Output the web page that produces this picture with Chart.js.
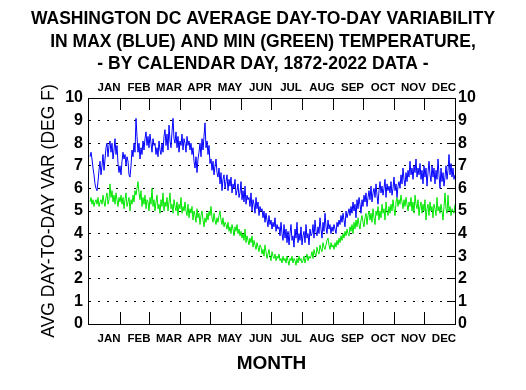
<!DOCTYPE html>
<html>
<head>
<meta charset="utf-8">
<script src="https://cdn.jsdelivr.net/npm/chart.js@4.4.1/dist/chart.umd.min.js"></script>
<style>
html,body{margin:0;padding:0;background:#ffffff;}
#wrap{width:526px;height:390px;position:relative;}
</style>
</head>
<body>
<div id="wrap"><canvas id="c" width="526" height="390"></canvas></div>
<script>
// ---------------- DATA ----------------
const titleLines = [
  'WASHINGTON DC AVERAGE DAY-TO-DAY VARIABILITY',
  'IN MAX (BLUE) AND MIN (GREEN) TEMPERATURE,',
  '- BY CALENDAR DAY, 1872-2022 DATA -'
];
const xAxisTitle = 'MONTH';
const yAxisTitle = 'AVG DAY-TO-DAY VAR (DEG F)';
const monthLabels = ['JAN','FEB','MAR','APR','MAY','JUN','JUL','AUG','SEP','OCT','NOV','DEC'];
const monthStartDay = [1, 32, 61, 92, 122, 153, 183, 214, 245, 275, 306, 336];
const daysInYear = 366;
const yMin = 0, yMax = 10, yStep = 1;

// Max temperature day-to-day variability (blue), one value per calendar day
const maxVariability = [
  7.4, 7.6, 7.3, 6.9, 6.6, 6.2, 6.0, 5.9, 6.3, 6.8,
  7.2, 6.6, 7.0, 7.5, 6.8, 7.3, 7.8, 8.0, 7.4, 7.9,
  8.1, 7.6, 8.0, 7.3, 7.7, 8.2, 7.5, 7.9, 7.1, 6.7,
  7.0, 6.6, 7.2, 7.6, 7.3, 7.5, 7.0, 7.4, 7.2, 6.6,
  6.5, 7.0, 7.7, 7.4, 8.0, 7.6, 9.1, 8.3, 7.6, 8.0,
  7.3, 7.8, 7.5, 8.1, 7.7, 8.2, 8.5, 7.9, 8.3, 7.8,
  8.4, 8.0, 7.6, 8.2, 7.9, 8.0, 7.5, 7.8, 7.4, 8.1,
  7.7, 7.5, 8.0, 7.6, 8.3, 8.6, 7.9, 8.4, 7.7, 8.8,
  8.1, 7.8, 8.5, 9.1, 8.2, 8.0, 8.5, 7.8, 8.3, 7.6,
  8.1, 7.9, 8.4, 7.7, 8.2, 8.0, 7.6, 8.3, 7.9, 8.1,
  7.7, 8.0, 7.5, 7.8, 7.2, 6.9, 7.4, 6.7, 7.3, 7.6,
  8.0, 7.4, 8.2, 7.7, 8.3, 8.9, 7.8, 8.1, 7.5, 7.9,
  7.1, 7.3, 6.8, 7.2, 6.6, 7.0, 7.3, 6.7, 6.5, 6.9,
  6.2, 6.7, 5.9, 6.4, 6.6, 6.0, 6.3, 6.6, 5.9, 6.4,
  6.1, 6.5, 5.8, 6.2, 6.0, 6.4, 5.7, 5.9, 6.2, 5.6,
  5.8, 6.3, 5.5, 5.9, 5.4, 6.1, 5.3, 5.7, 5.5, 5.6,
  5.2, 5.8, 5.0, 5.5, 5.3, 4.9, 5.6, 5.1, 5.4, 4.8,
  5.2, 5.0, 5.1, 4.7, 5.0, 4.5, 4.9, 4.6, 4.3, 4.8,
  4.4, 4.6, 4.2, 4.5, 4.3, 4.7, 4.1, 4.4, 4.2, 4.3,
  3.9, 4.5, 4.0, 3.7, 4.4, 3.8, 4.2, 3.6, 4.1, 3.5,
  4.0, 4.4, 3.7, 3.9, 3.4, 4.2, 3.8, 4.5, 3.6, 4.0,
  3.7, 4.3, 3.5, 3.9, 4.1, 3.6, 4.4, 3.8, 4.0, 3.5,
  4.2, 3.9, 4.0, 4.4, 3.8, 4.6, 4.1, 3.9, 4.3, 4.0,
  4.7, 4.2, 3.8, 4.5, 4.1, 4.9, 4.3, 4.0, 4.6, 4.2,
  4.4, 4.0, 4.3, 4.1, 4.4, 4.2, 4.0, 4.5, 4.3, 4.6,
  4.4, 4.8, 4.5, 4.9, 4.6, 4.3, 5.0, 4.7, 4.9, 5.1,
  4.8, 5.2, 4.9, 5.4, 5.0, 5.3, 4.7, 5.5, 5.1, 5.6,
  5.3, 4.9, 5.5, 5.2, 5.7, 5.4, 5.8, 5.2, 5.6, 5.9,
  5.5, 6.1, 5.4, 5.8, 6.0, 5.6, 6.2, 5.7, 5.3, 5.9,
  6.3, 5.8, 6.1, 5.7, 6.0, 6.4, 5.6, 6.2, 5.9, 6.1,
  5.8, 6.3, 5.7, 6.0, 6.5, 5.9, 6.2, 5.6, 6.1, 6.3,
  6.0, 6.6, 6.2, 6.9, 6.4, 6.1, 6.7, 6.3, 6.8, 6.5,
  7.2, 6.6, 6.9, 6.4, 7.0, 6.7, 7.3, 6.5, 6.9, 6.6,
  7.1, 6.4, 6.8, 6.2, 7.0, 6.5, 6.9, 6.1, 6.7, 7.2,
  6.6, 6.3, 7.0, 6.5, 6.9, 6.2, 6.8, 6.4, 7.3, 6.6,
  6.0, 6.9, 6.3, 6.7, 6.1, 6.5, 7.0, 6.4, 6.8, 7.5,
  6.6, 7.1, 6.5, 6.9, 6.4, 6.6
];

// Min temperature day-to-day variability (green), one value per calendar day
const minVariability = [
  5.4, 5.6, 5.3, 5.5, 5.2, 5.4, 5.5, 5.3, 5.6, 5.2,
  5.4, 5.5, 5.3, 5.7, 5.4, 5.2, 5.6, 5.8, 5.3, 5.5,
  6.2, 5.6, 5.9, 5.4, 5.7, 5.3, 5.8, 5.5, 5.2, 5.6,
  5.4, 5.7, 5.3, 5.6, 5.1, 5.5, 5.8, 5.2, 5.4, 5.6,
  5.0, 5.5, 5.3, 5.7, 5.4, 5.9, 5.7, 6.0, 6.3, 5.8,
  5.5, 5.9, 5.2, 5.6, 5.3, 5.7, 5.1, 5.5, 5.4, 5.0,
  5.6, 5.3, 6.0, 5.2, 5.5, 5.0, 5.4, 5.7, 5.1, 5.3,
  4.9, 5.5, 5.2, 5.8, 5.0, 5.4, 5.2, 5.6, 5.0, 5.4,
  5.8, 5.1, 5.3, 4.9, 5.5, 5.2, 5.0, 5.4, 4.8, 5.3,
  5.1, 5.6, 4.9, 5.2, 5.0, 5.4, 5.0, 4.8, 5.3, 4.7,
  5.1, 4.9, 5.2, 4.6, 5.0, 4.8, 4.5, 5.1, 4.7, 4.9,
  4.4, 4.8, 5.0, 4.6, 4.3, 4.7, 4.5, 4.9, 4.6, 5.0,
  4.8, 5.2, 4.7, 4.5, 4.9, 4.6, 4.4, 4.7, 4.5, 4.8,
  5.0, 4.6, 4.4, 4.7, 4.3, 4.5, 4.4, 4.2, 4.5, 4.1,
  4.3, 4.0, 4.4, 4.2, 3.9, 4.3, 4.1, 4.4, 4.0, 4.2,
  3.9, 4.1, 3.8, 4.0, 3.7, 4.2, 3.6, 3.9, 3.7, 3.5,
  3.8, 3.6, 3.9, 3.4, 3.7, 3.5, 3.3, 3.6, 3.4, 3.2,
  3.5, 3.4, 3.1, 3.3, 3.0, 3.5, 3.2, 2.9, 3.1, 3.3,
  3.0, 2.8, 3.2, 3.0, 2.9, 3.1, 2.8, 3.0, 2.9, 3.1,
  2.8, 2.9, 2.7, 3.0, 2.8, 2.9, 2.7, 3.0, 2.8, 2.6,
  2.9, 2.8, 3.0, 2.7, 2.9, 2.8, 2.6, 2.9, 2.7, 3.0,
  2.8, 2.9, 2.7, 2.8, 3.0, 2.7, 2.9, 3.1, 2.8, 3.0,
  2.9, 3.0, 3.2, 2.9, 3.3, 3.1, 3.0, 3.4, 3.2, 3.1,
  3.5, 3.3, 3.2, 3.6, 3.4, 3.3, 3.5, 3.7, 3.8, 3.5,
  3.3, 3.6, 3.4, 3.5, 3.3, 3.6, 3.4, 3.7, 3.5, 3.8,
  3.6, 3.9, 3.7, 4.0, 3.8, 4.1, 3.9, 4.2, 4.0, 3.9,
  4.3, 4.1, 4.4, 4.0, 4.5, 4.2, 4.6, 4.3, 4.7, 4.4,
  4.2, 4.6, 4.8, 4.5, 4.3, 4.7, 4.9, 4.4, 4.8, 5.0,
  4.6, 4.9, 4.5, 5.1, 4.7, 4.4, 5.0, 4.8, 5.2, 4.6,
  5.0, 4.7, 5.3, 4.9, 5.1, 4.6, 5.4, 5.0, 4.8, 5.2,
  4.9, 5.3, 5.0, 5.5, 5.1, 4.8, 5.4, 5.6, 5.2, 5.5,
  5.3, 5.7, 5.4, 5.1, 5.5, 5.2, 5.6, 5.3, 5.0, 5.4,
  5.2, 5.6, 5.0, 5.4, 4.9, 5.7, 5.3, 5.1, 5.5, 4.8,
  5.2, 5.4, 4.9, 5.3, 5.0, 5.5, 4.6, 5.1, 5.3, 4.8,
  5.4, 5.0, 5.2, 4.7, 5.3, 5.1, 4.8, 5.6, 5.0, 5.2,
  4.9, 5.3, 5.0, 4.6, 5.2, 5.8, 5.1, 4.9, 5.7, 5.0,
  5.2, 4.8, 5.1, 5.0, 4.9, 5.3
];

// ---------------- CHART ----------------
const FONT = "'Liberation Sans', Arial, Helvetica, sans-serif";
const BLUE = '#0000ff';
const GREEN = '#00e600';

const dayNumbers = maxVariability.map((_, i) => i + 1);
const toPoints = arr => arr.map((v, i) => ({ x: dayNumbers[i], y: v }));

// month boundaries (between last day of a month and first day of next)
const monthEdges = monthStartDay.concat([daysInYear + 1]).map(s => s - 0.5);
const xTickInfo = [];
monthEdges.slice(1, -1).forEach(v => xTickInfo.push({ value: v, label: '' }));
monthLabels.forEach((m, k) => xTickInfo.push({ value: (monthEdges[k] + monthEdges[k + 1]) / 2 + 4, label: m }));
xTickInfo.sort((a, b) => a.value - b.value);

const TITLE_LH = 22.75, TITLE_PAD = 7.6;
const PLOT = { left: 88, right: 455, top: 98, bottom: 324 };
const W = 526, H = 390;

const monthAxis = (position, padding) => ({
  type: 'linear',
  position,
  min: -1,
  max: 366,
  afterBuildTicks: s => { s.ticks = xTickInfo.map(t => ({ value: t.value })); },
  afterFit: s => {
    if (position === 'top') s.height = PLOT.top - (TITLE_PAD + 3 * TITLE_LH);
    else s.height = H - PLOT.bottom;
  },
  ticks: {
    autoSkip: false,
    maxRotation: 0,
    minRotation: 0,
    padding,
    color: '#000',
    font: { family: FONT, size: 11.5, weight: 'bold' },
    callback: (v, i) => (xTickInfo[i] ? xTickInfo[i].label : '')
  },
  grid: {
    display: true,
    drawOnChartArea: false,
    drawTicks: true,
    tickLength: -12,
    tickWidth: 1,
    tickColor: ctx => (xTickInfo[ctx.index] && xTickInfo[ctx.index].label === '' ? '#000' : 'rgba(0,0,0,0)'),
    color: 'rgba(0,0,0,0)'
  },
  border: { display: true, color: '#000', width: 1 },
  title: position === 'bottom' ? {
    display: true,
    text: xAxisTitle,
    color: '#000',
    font: { family: FONT, size: 19, weight: 'bold' },
    padding: { top: 0, bottom: 15 }
  } : { display: false }
});

new Chart(document.getElementById('c'), {
  type: 'line',
  data: {
    datasets: [
      { label: 'MAX', data: toPoints(maxVariability), borderColor: BLUE, borderWidth: 1, pointRadius: 0, tension: 0, fill: false, xAxisID: 'x', yAxisID: 'y' },
      { label: 'MIN', data: toPoints(minVariability), borderColor: GREEN, borderWidth: 1, pointRadius: 0, tension: 0, fill: false, xAxisID: 'x', yAxisID: 'y' }
    ]
  },
  options: {
    responsive: false,
    animation: false,
    devicePixelRatio: 1,
    events: [],
    layout: { padding: 0 },
    plugins: {
      legend: { display: false },
      tooltip: { enabled: false },
      title: {
        display: true,
        text: titleLines,
        color: '#000',
        font: { family: FONT, size: 17.5, weight: 'bold', lineHeight: TITLE_LH / 17.5 },
        padding: { top: TITLE_PAD, bottom: 0 }
      }
    },
    scales: {
      x: monthAxis('bottom', 20),
      xTop: monthAxis('top', 15),
      y: {
        type: 'linear',
        position: 'left',
        min: yMin,
        max: yMax,
        afterFit: s => { s.width = PLOT.left; },
        ticks: { stepSize: yStep, padding: 5, color: '#000', font: { family: FONT, size: 16, weight: 'bold' } },
        grid: {
          drawTicks: false,
          lineWidth: 1,
          color: ctx => (ctx.tick && (ctx.tick.value === yMin || ctx.tick.value === yMax) ? 'rgba(0,0,0,0)' : '#000')
        },
        border: { display: true, color: '#000', width: 1, dash: [2, 7] },
        title: {
          display: true,
          text: yAxisTitle,
          color: '#000',
          font: { family: FONT, size: 17.5, weight: 'normal' },
          padding: { top: 39, bottom: 0 }
        }
      },
      yRight: {
        type: 'linear',
        position: 'right',
        display: true,
        min: yMin,
        max: yMax,
        afterFit: s => { s.width = W - PLOT.right; },
        ticks: { stepSize: yStep, padding: 11, color: '#000', font: { family: FONT, size: 16, weight: 'bold' } },
        grid: {
          display: true,
          drawOnChartArea: false,
          drawTicks: true,
          tickLength: -8,
          tickColor: '#000',
          tickWidth: 1
        },
        border: { display: true, color: '#000', width: 1 }
      }
    }
  }
});
</script>
</body>
</html>
